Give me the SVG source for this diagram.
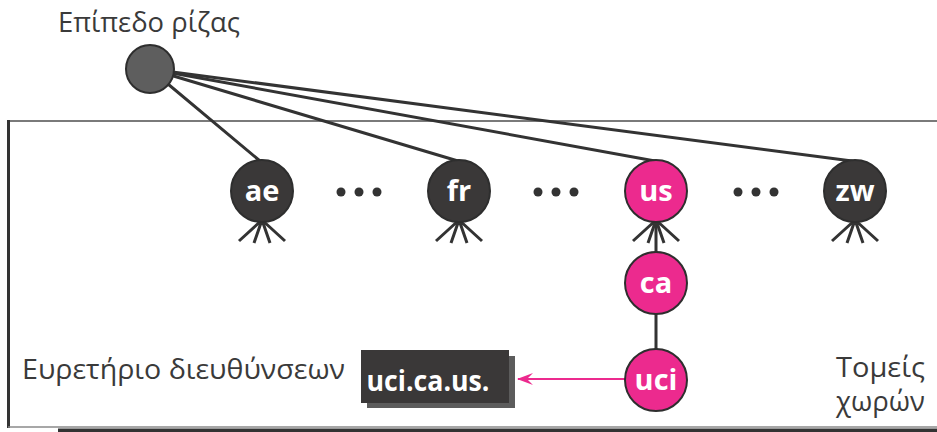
<svg xmlns="http://www.w3.org/2000/svg" width="937" height="432" viewBox="0 0 937 432">
  <style>
    .label { font-family: "Open Sans", "Noto Sans", "DejaVu Sans", sans-serif; font-size: 27px; fill: #3a3a3a; }
    .nodetext { font-family: "Open Sans", "Noto Sans", "DejaVu Sans", sans-serif; font-size: 29px; font-weight: bold; fill: #ffffff; text-anchor: middle; }
    .dark { fill: #3a3838; stroke: #2e2e2e; stroke-width: 2; }
    .pink { fill: #ec2a8e; stroke: #2e2e2e; stroke-width: 2; }
    .edge { stroke: #333333; stroke-width: 3; fill: none; stroke-linecap: round; }
    .foot { stroke: #333333; stroke-width: 3; fill: none; }
    .dot { fill: #333333; }
  </style>
  <defs>
    <marker id="arrow" viewBox="0 0 16 14" refX="15" refY="7" markerWidth="16" markerHeight="14" markerUnits="userSpaceOnUse" orient="auto">
      <path d="M0,1 L16,7 L0,13 L6,7 Z" fill="#ec2a8e"/>
    </marker>
    <!-- crow-foot fan drawn beneath each top-level domain -->
    <g id="feet">
      <path class="foot" d="M0,-2 L-23,19 M0,-2 L-8,21 M0,-2 L8,21 M0,-2 L23,19"/>
    </g>
  </defs>

  <rect width="937" height="432" fill="#ffffff"/>

  <!-- domain-space frame -->
  <g id="frame">
    <line x1="8" y1="121" x2="937" y2="121" stroke="#7a7a7a" stroke-width="2"/>
    <line x1="8.5" y1="120" x2="8.5" y2="428" stroke="#333333" stroke-width="3"/>
    <line x1="8" y1="427" x2="937" y2="427" stroke="#8a8a8a" stroke-width="1.5"/>
    <rect x="58" y="428.5" width="879" height="4" fill="#333333"/>
  </g>

  <!-- connectors -->
  <g id="connectors">
    <line class="edge" x1="150" y1="69" x2="260" y2="161"/>
    <line class="edge" x1="150" y1="69" x2="458" y2="161"/>
    <line class="edge" x1="150" y1="69" x2="655" y2="161"/>
    <line class="edge" x1="150" y1="69" x2="852" y2="161"/>
    <line class="edge" x1="656" y1="222" x2="656" y2="350"/>
    <line x1="625" y1="379" x2="518" y2="379" stroke="#ec2a8e" stroke-width="2" marker-end="url(#arrow)"/>
  </g>

  <!-- fans below top-level domains -->
  <g id="fans">
    <use href="#feet" x="262" y="222"/>
    <use href="#feet" x="459" y="222"/>
    <use href="#feet" x="656" y="222"/>
    <use href="#feet" x="855" y="222"/>
  </g>

  <!-- ellipsis dots -->
  <g id="ellipses">
    <circle class="dot" cx="341" cy="192" r="4.5"/>
    <circle class="dot" cx="359" cy="192" r="4.5"/>
    <circle class="dot" cx="377" cy="192" r="4.5"/>
    <circle class="dot" cx="538" cy="192" r="4.5"/>
    <circle class="dot" cx="556" cy="192" r="4.5"/>
    <circle class="dot" cx="574" cy="192" r="4.5"/>
    <circle class="dot" cx="738" cy="192" r="4.5"/>
    <circle class="dot" cx="756" cy="192" r="4.5"/>
    <circle class="dot" cx="774" cy="192" r="4.5"/>
  </g>

  <g id="root">
    <circle cx="150" cy="69" r="24" fill="#5e5e5e" stroke="#2e2e2e" stroke-width="2"/>
    <text class="label" x="58" y="32" textLength="182" lengthAdjust="spacingAndGlyphs">Επίπεδο ρίζας</text>
  </g>

  <g id="node-ae">
    <circle class="dark" cx="262" cy="191" r="31"/>
    <text class="nodetext" x="262" y="201">ae</text>
  </g>
  <g id="node-fr">
    <circle class="dark" cx="459" cy="191" r="31"/>
    <text class="nodetext" x="459" y="201">fr</text>
  </g>
  <g id="node-us">
    <circle class="pink" cx="656" cy="191" r="31"/>
    <text class="nodetext" x="656" y="201">us</text>
  </g>
  <g id="node-zw">
    <circle class="dark" cx="855" cy="191" r="31"/>
    <text class="nodetext" x="855" y="201">zw</text>
  </g>
  <g id="node-ca">
    <circle class="pink" cx="656" cy="283" r="31"/>
    <text class="nodetext" x="656" y="293">ca</text>
  </g>
  <g id="node-uci">
    <circle class="pink" cx="656" cy="380" r="31"/>
    <text class="nodetext" x="656" y="390">uci</text>
  </g>

  <g id="address-index">
    <rect x="367" y="356" width="148" height="52" fill="#5c5c5c"/>
    <rect x="361" y="350" width="148" height="53" fill="#3a3838"/>
    <text class="nodetext" x="428" y="391" style="font-size:28px" textLength="123" lengthAdjust="spacingAndGlyphs">uci.ca.us.</text>
    <text class="label" x="22" y="379" textLength="323" lengthAdjust="spacingAndGlyphs">Ευρετήριο διευθύνσεων</text>
  </g>

  <g id="domain-space-label">
    <text class="label" x="836" y="377" textLength="89" lengthAdjust="spacingAndGlyphs">Τομείς</text>
    <text class="label" x="836" y="411" textLength="89" lengthAdjust="spacingAndGlyphs">χωρών</text>
  </g>
</svg>
